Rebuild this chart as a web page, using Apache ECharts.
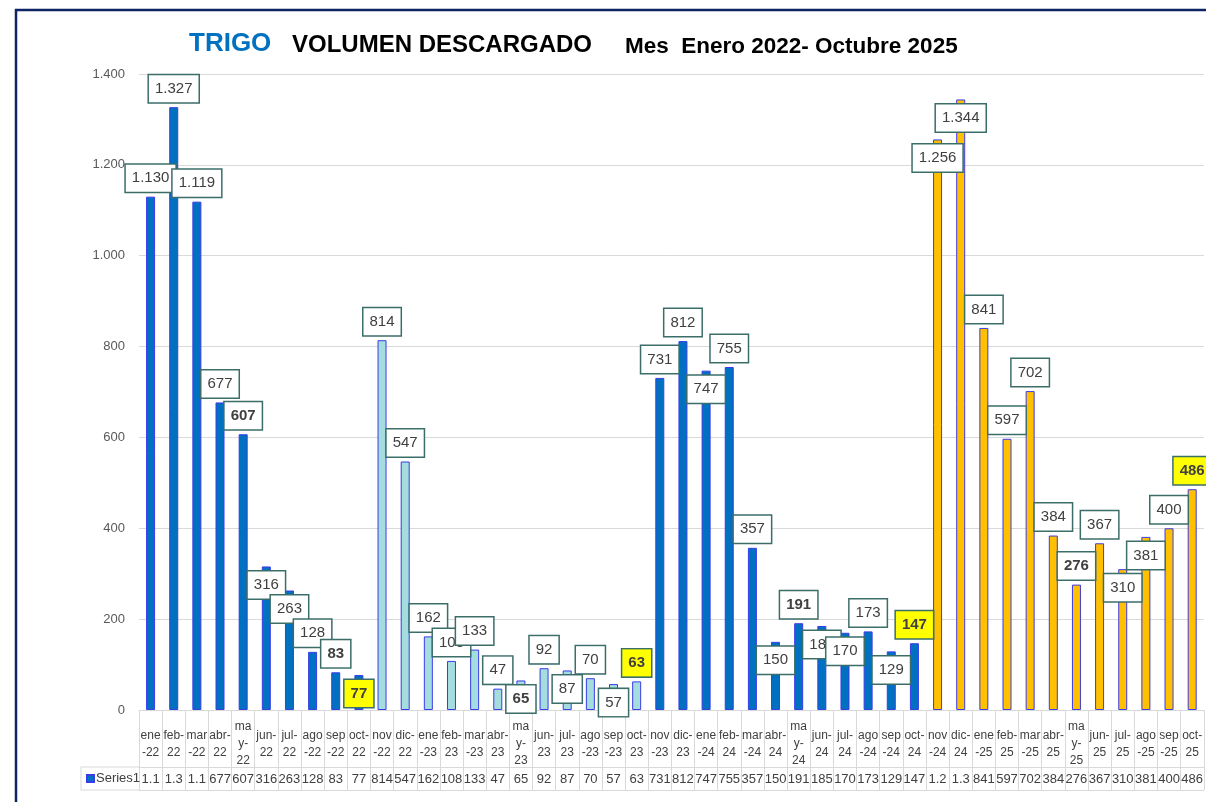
<!DOCTYPE html>
<html><head><meta charset="utf-8">
<script src="https://cdn.jsdelivr.net/npm/echarts@6/dist/echarts.min.js"></script>
<style>html,body{margin:0;padding:0;background:#fff}#c{width:1206px;height:802px}</style>
</head><body><div id="c"></div>
<script>
const categories = [
  'ene-22','feb-22','mar-22','abr-22','may-22','jun-22','jul-22','ago-22','sep-22','oct-22','nov-22','dic-22',
  'ene-23','feb-23','mar-23','abr-23','may-23','jun-23','jul-23','ago-23','sep-23','oct-23','nov-23','dic-23',
  'ene-24','feb-24','mar-24','abr-24','may-24','jun-24','jul-24','ago-24','sep-24','oct-24','nov-24','dic-24',
  'ene-25','feb-25','mar-25','abr-25','may-25','jun-25','jul-25','ago-25','sep-25','oct-25'
];
const values = [
  1130,1327,1119,677,607,316,263,128,83,77,814,547,
  162,108,133,47,65,92,87,70,57,63,731,812,
  747,755,357,150,191,185,170,173,129,147,1256,1344,
  841,597,702,384,276,367,310,381,400,486
];
const yTicks = [0,200,400,600,800,1000,1200,1400];
const labelsBelow = [5,6,9,16,18,20,24,27,29,30,32,34,35,42,43];
const boldLabels = [4,8,9,16,21,28,33,40,45];
const highlightLabels = [9,21,33,45];
const campaignColors = ['#0070C0','#A4DDDE','#0070C0','#FFC000'];
const hyphenFirst = ['feb','abr','jun','jul','oct','dic'];

const FF = '"Liberation Sans", Arial, sans-serif';
function campaignOf(c){ const p=c.split('-'); const late=(p[0]==='nov'||p[0]==='dic'); return (+p[1]) + (late?1:0) - 22; }
function fmtThousands(v){ return String(v).replace(/\B(?=(\d{3})+(?!\d))/g,'.'); }
function fmtShort(v){ return v>=1000 ? (Math.floor(v/100)/10).toFixed(1) : String(v); }
function wrapCat(c){ const p=c.split('-'); if(p[0]==='may') return 'ma\ny-\n'+p[1]; if(hyphenFirst.includes(p[0])) return p[0]+'-\n'+p[1]; return p[0]+'\n-'+p[1]; }

const chart = echarts.init(document.getElementById('c'), null, {renderer:'canvas'});
const gridLine = '#D9D9D9';
chart.setOption({
  animation:false,
  backgroundColor:'#fff',
  title:[
    {text:'TRIGO', left:189, top:31, padding:0, textStyle:{color:'#0070C0', fontSize:26, fontWeight:'bold', fontFamily:FF}},
    {text:'VOLUMEN DESCARGADO', left:292, top:33, padding:0, textStyle:{color:'#000', fontSize:24, fontWeight:'bold', fontFamily:FF}},
    {text:'Mes  Enero 2022- Octubre 2025', left:625, top:35, padding:0, textStyle:{color:'#000', fontSize:22.5, fontWeight:'bold', fontFamily:FF}}
  ],
  legend:{data:['Series1'], left:86, top:772, padding:0, itemWidth:7, itemHeight:7, itemGap:0, icon:'rect', selectedMode:false,
    textStyle:{fontSize:13, color:'#404040', fontFamily:FF, padding:[0,0,0,-3]}},
  grid:{left:139, right:0, top:74, bottom:92, containLabel:false},
  xAxis:[
    {type:'category', data:categories, position:'bottom',
     axisLine:{lineStyle:{color:gridLine}},
     axisTick:{show:true, interval:0, length:80, lineStyle:{color:gridLine}},
     axisLabel:{interval:0, formatter:wrapCat, color:'#404040', fontSize:12, lineHeight:17, verticalAlign:'middle', margin:34, fontFamily:FF}},
    {type:'category', data:categories, position:'bottom', offset:57,
     axisLine:{lineStyle:{color:gridLine}}, axisTick:{show:false},
     axisLabel:{interval:0, formatter:(v,i)=>fmtShort(values[i]), color:'#404040', fontSize:13, verticalAlign:'middle', margin:12, fontFamily:FF}},
    {type:'category', data:categories, position:'bottom', offset:80,
     axisLine:{lineStyle:{color:gridLine}}, axisTick:{show:false}, axisLabel:{show:false}}
  ],
  yAxis:{type:'value', min:yTicks[0], max:yTicks[yTicks.length-1], interval:200,
    axisLine:{show:false}, axisTick:{show:false},
    splitLine:{lineStyle:{color:gridLine, width:1}},
    axisLabel:{formatter:v=>fmtThousands(v), color:'#595959', fontSize:13, margin:14, fontFamily:FF}},
  series:[{
    type:'bar', name:'Series1', xAxisIndex:0, barWidth:9,
    itemStyle:{color:'#0070C0', borderColor:'#3B3BE8', borderWidth:1},
    label:{show:true, formatter:p=>fmtThousands(p.value), fontSize:15, color:'#404040', fontFamily:FF,
      backgroundColor:'#fff', borderColor:'#3B6E69', borderWidth:1.5, padding:[5,6,5,6], lineHeight:17, distance:5},
    data: values.map((v,i)=>({
      value:v,
      itemStyle:{color:campaignColors[campaignOf(categories[i])]},
      label:{position: labelsBelow.includes(i)?'insideTop':'top',
             fontWeight: boldLabels.includes(i)?'bold':'normal',
             backgroundColor: highlightLabels.includes(i)?'#FFFF00':'#fff'}
    }))
  }],
  graphic:[
    {type:'rect', silent:true, z:100, shape:{x:16,y:10,width:1400,height:1000}, style:{fill:null, stroke:'#0F2463', lineWidth:2.5}},
    {type:'polyline', silent:true, shape:{points:[[139,767],[81,767],[81,790],[139,790]]}, style:{stroke:gridLine, fill:null, lineWidth:1}}
  ]
});
</script></body></html>
